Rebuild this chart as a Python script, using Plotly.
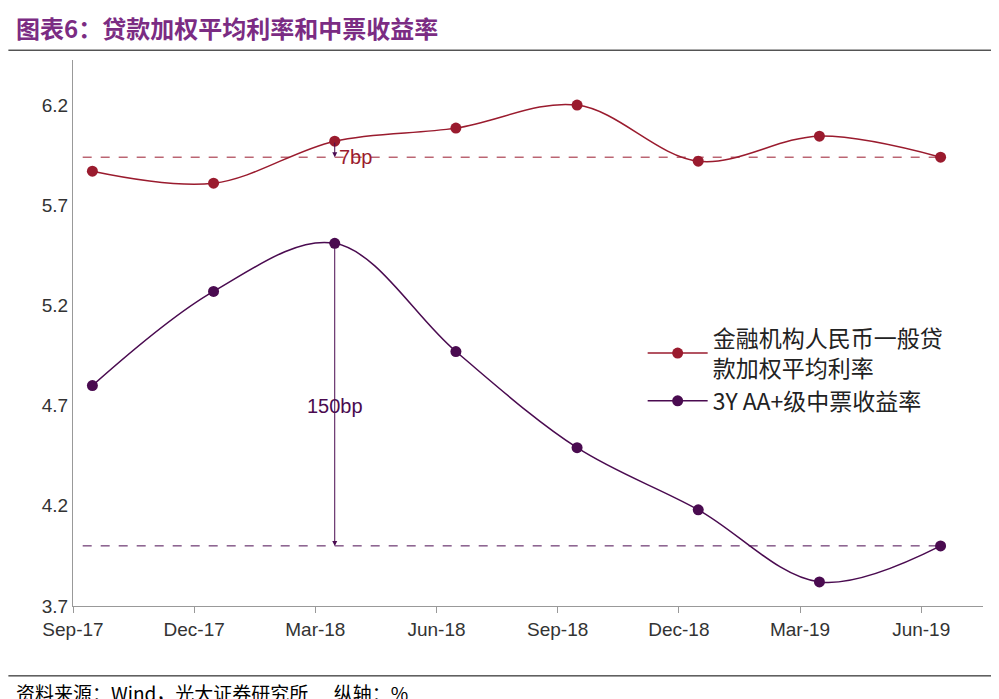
import plotly.graph_objects as go

cats = ["Sep-17","Dec-17","Mar-18","Jun-18","Sep-18","Dec-18","Mar-19","Jun-19"]
loan_rate = [5.87, 5.81, 6.02, 6.085, 6.20, 5.92, 6.045, 5.94]
mtn_yield = [4.80, 5.27, 5.51, 4.97, 4.49, 4.18, 3.82, 4.00]
yticks = [3.7, 4.2, 4.7, 5.2, 5.7, 6.2]

RED = "#9A1B2E"
PUR = "#4A0B50"
xs = [i + 0.16 for i in range(len(cats))]

fig = go.Figure()
fig.add_trace(go.Scatter(x=xs, y=loan_rate, mode="lines+markers", line=dict(color=RED, width=1.5, shape="spline"),
                         marker=dict(size=11, color=RED), name="金融机构人民币一般贷<br>款加权平均利率"))
fig.add_trace(go.Scatter(x=xs, y=mtn_yield, mode="lines+markers", line=dict(color=PUR, width=1.5, shape="spline"),
                         marker=dict(size=11, color=PUR), name="3Y AA+级中票收益率"))

fig.add_shape(type="line", x0=0.08, x1=xs[-1], y0=loan_rate[-1], y1=loan_rate[-1], line=dict(color=RED, width=1, dash="dash"))
fig.add_shape(type="line", x0=0.08, x1=xs[-1], y0=mtn_yield[-1], y1=mtn_yield[-1], line=dict(color=PUR, width=1, dash="dash"))
fig.add_annotation(x=xs[2], y=mtn_yield[-1], ax=xs[2], ay=mtn_yield[2], xref="x", yref="y", axref="x", ayref="y",
                   showarrow=True, arrowhead=2, arrowwidth=1, arrowcolor=PUR, text="")
fig.add_annotation(x=xs[2], y=loan_rate[-1], ax=xs[2], ay=loan_rate[2], xref="x", yref="y", axref="x", ayref="y",
                   showarrow=True, arrowhead=2, arrowwidth=1, arrowcolor=PUR, text="")
fig.add_annotation(x=xs[2], y=4.7, text="150bp", showarrow=False, font=dict(size=20, color=PUR))
fig.add_annotation(x=xs[2], y=loan_rate[-1], text="7bp", showarrow=False, xanchor="left", xshift=2,
                   font=dict(size=20, color=RED))

fig.add_annotation(xref="paper", yref="paper", x=-0.065, y=1.059, xanchor="left", yanchor="middle",
                   text="<b>图表6：贷款加权平均利率和中票收益率</b>", showarrow=False,
                   font=dict(size=24, color="#7B2C83", family="Noto Sans CJK SC"))
fig.add_shape(type="line", xref="paper", yref="paper", x0=-0.071, x1=1.026, y0=1.018, y1=1.018,
              line=dict(color="black", width=1))
fig.add_shape(type="line", xref="paper", yref="paper", x0=-0.071, x1=1.026, y0=-0.128, y1=-0.128,
              line=dict(color="black", width=1))
fig.add_annotation(xref="paper", yref="paper", x=-0.065, y=-0.159, xanchor="left", yanchor="middle",
                   text="资料来源：Wind，光大证券研究所      纵轴：%", showarrow=False,
                   font=dict(size=19, color="black", family="Noto Sans CJK SC"))

fig.update_layout(
    width=999, height=699, paper_bgcolor="white", plot_bgcolor="white",
    margin=dict(l=65, r=24, t=52, b=101),
    font=dict(family="Liberation Sans, Arial", size=19, color="#333"),
    xaxis=dict(range=[0, 7.51], tickvals=list(range(len(cats))), ticktext=cats, showgrid=False,
               showline=True, linecolor="#999", ticks="outside", ticklen=6, tickcolor="#999", zeroline=False),
    yaxis=dict(range=[3.7, 6.425], tickvals=yticks, ticktext=[f"{v:.1f}" for v in yticks], showgrid=False,
               showline=True, linecolor="#999", zeroline=False),
    legend=dict(x=0.626, y=0.53, xanchor="left", yanchor="top", bgcolor="rgba(0,0,0,0)",
                font=dict(size=23, family="Noto Sans CJK SC", color="#222"), tracegroupgap=30, itemwidth=60),
    showlegend=True,
)
fig.write_html("out.html")
